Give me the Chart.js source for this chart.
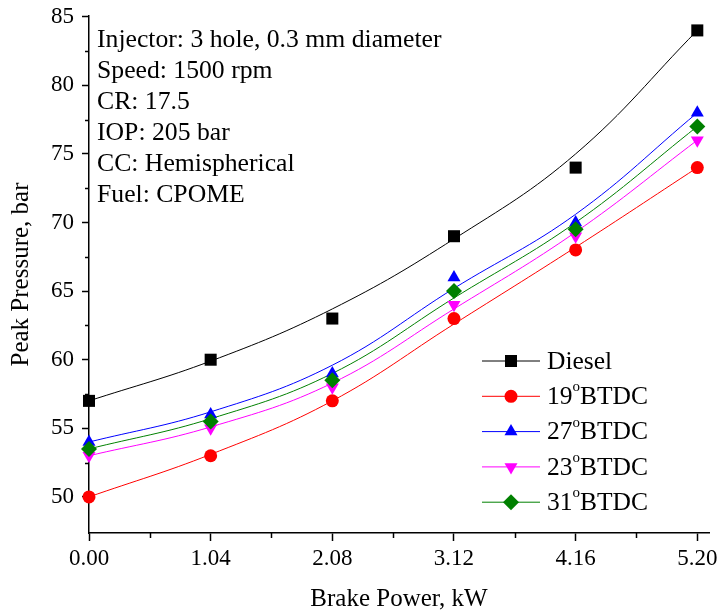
<!DOCTYPE html>
<html>
<head>
<meta charset="utf-8">
<script src="https://cdn.jsdelivr.net/npm/chart.js@4.4.1/dist/chart.umd.min.js"></script>
<style>
  html, body { margin: 0; padding: 0; background: #fff; }
  #wrap { width: 719px; height: 614px; }
</style>
</head>
<body>
<div id="wrap"><canvas id="grafico" width="719" height="614"></canvas></div>
<script>
// brake power (kW)
const power = [0.00, 1.04, 2.08, 3.12, 4.16, 5.20];
const xTicks = [0.00, 1.04, 2.08, 3.12, 4.16, 5.20];
const yTicks = [50, 55, 60, 65, 70, 75, 80, 85];

// measured peak pressure (bar)
const diesel = [57, 60, 63, 69, 74, 84];
const btdc19 = [50, 53, 57, 63, 68, 74];
const btdc27 = [54, 56, 59, 66, 70, 78];
const btdc23 = [53, 55, 58, 64, 69, 76];
const btdc31 = [53.5, 55.5, 58.5, 65, 69.5, 77];

// fitted curves at each power value
const dieselFit = [57.0, 59.9, 63.7, 68.8, 75.0, 84.0];
const btdc19Fit = [50.0, 53.1, 57.0, 62.6, 68.2, 74.0];
const btdc27Fit = [54.0, 56.2, 59.6, 65.2, 70.6, 78.0];
const btdc23Fit = [53.0, 55.1, 58.3, 63.7, 69.3, 76.0];
const btdc31Fit = [53.5, 55.7, 59.0, 64.5, 70.0, 77.0];

const seriesLabels = ['Diesel', '19°BTDC', '27°BTDC', '23°BTDC', '31°BTDC'];
// legend text split in [normal, superscript, normal]
const legendParts = [['Diesel'], ['19', 'o', 'BTDC'], ['27', 'o', 'BTDC'], ['23', 'o', 'BTDC'], ['31', 'o', 'BTDC']];

const notes = [
    'Injector: 3 hole, 0.3 mm diameter',
    'Speed: 1500 rpm',
    'CR: 17.5',
    'IOP: 205 bar',
    'CC: Hemispherical',
    'Fuel: CPOME'
];

const FONT = "'Liberation Serif', 'Times New Roman', serif";
const cores = ['#000000', '#ff0000', '#0000ff', '#ff00ff', '#008000'];
const estilos = [
    { style: 'rect', radius: 8.5, rotation: 0 },
    { style: 'circle', radius: 6.5, rotation: 0 },
    { style: 'triangle', radius: 7.5, rotation: 0 },
    { style: 'triangle', radius: 7.5, rotation: 180 },
    { style: 'rectRot', radius: 8, rotation: 0 }
];
const pontos = [diesel, btdc19, btdc27, btdc23, btdc31];
const ajustes = [dieselFit, btdc19Fit, btdc27Fit, btdc23Fit, btdc31Fit];

const pares = (ys) => power.map((x, i) => ({ x: x, y: ys[i] }));

const datasets = [];
pontos.forEach((serie, i) => {
    datasets.push({
        label: seriesLabels[i],
        data: pares(serie),
        showLine: false,
        pointStyle: estilos[i].style,
        pointRadius: estilos[i].radius,
        pointRotation: estilos[i].rotation,
        pointBackgroundColor: cores[i],
        pointBorderColor: cores[i],
        pointBorderWidth: 0,
        clip: false,
        order: 10 - i
    });
});
ajustes.forEach((serie, i) => {
    datasets.push({
        label: seriesLabels[i] + ' fit',
        data: pares(serie),
        borderColor: cores[i],
        borderWidth: 1,
        pointRadius: 0,
        tension: 0.4,
        clip: false,
        order: 20
    });
});

// minor ticks, notes and legend
const extras = {
    id: 'extras',
    afterDraw(chart) {
        const ctx = chart.ctx;
        const xs = chart.scales.x, ys = chart.scales.y;
        const area = chart.chartArea;
        ctx.save();
        ctx.strokeStyle = '#000';
        ctx.lineWidth = 1.5;
        for (let i = 0; i < xTicks.length - 1; i++) {
            const px = Math.round(xs.getPixelForValue((xTicks[i] + xTicks[i + 1]) / 2)) + 0.5;
            ctx.beginPath();
            ctx.moveTo(px, area.bottom);
            ctx.lineTo(px, area.bottom + 5);
            ctx.stroke();
        }
        for (let i = 0; i < yTicks.length - 1; i++) {
            const py = Math.round(ys.getPixelForValue((yTicks[i] + yTicks[i + 1]) / 2)) + 0.5;
            ctx.beginPath();
            ctx.moveTo(area.left, py);
            ctx.lineTo(area.left - 4, py);
            ctx.stroke();
        }

        ctx.fillStyle = '#000';
        ctx.font = '25.7px ' + FONT;
        ctx.textBaseline = 'middle';
        ctx.textAlign = 'left';
        notes.forEach((t, i) => ctx.fillText(t, 97, 40 + i * 31));

        legendParts.forEach((parts, i) => {
            const y = 361 + i * 35.3;
            ctx.strokeStyle = cores[i];
            ctx.lineWidth = 1;
            ctx.beginPath();
            ctx.moveTo(482, y);
            ctx.lineTo(540, y);
            ctx.stroke();
            ctx.fillStyle = cores[i];
            Chart.helpers.drawPoint(ctx, {
                pointStyle: estilos[i].style,
                radius: estilos[i].radius,
                rotation: estilos[i].rotation,
                borderWidth: 0
            }, 511, y);
            ctx.fillStyle = '#000';
            let x = 547;
            parts.forEach((p, k) => {
                if (k === 1) {
                    ctx.font = '15px ' + FONT;
                    ctx.fillText(p, x, y - 9);
                } else {
                    ctx.font = '25.5px ' + FONT;
                    ctx.fillText(p, x, y + 1);
                }
                x += ctx.measureText(p).width;
            });
        });
        ctx.restore();
    }
};

document.addEventListener('DOMContentLoaded', function() {
    const ctx = document.getElementById('grafico').getContext('2d');
    new Chart(ctx, {
        type: 'line',
        data: { datasets: datasets },
        options: {
            responsive: false,
            animation: false,
            devicePixelRatio: 1,
            layout: { padding: { top: 16, right: 10, left: 0, bottom: 0 } },
            plugins: {
                legend: { display: false },
                tooltip: { enabled: false }
            },
            scales: {
                x: {
                    type: 'linear',
                    min: 0,
                    max: 5.3,
                    afterBuildTicks: (s) => { s.ticks = xTicks.map(v => ({ value: v })); },
                    afterFit: (s) => { s.height = 81; s.paddingLeft = 0; s.paddingRight = 0; },
                    grid: { drawOnChartArea: false, tickLength: 8, tickColor: '#000', tickWidth: 1.5 },
                    border: { color: '#000', width: 1.5 },
                    ticks: {
                        color: '#000',
                        padding: 4,
                        maxRotation: 0,
                        font: { family: FONT, size: 23 },
                        callback: (v) => Number(v).toFixed(2)
                    },
                    title: {
                        display: true,
                        text: 'Brake Power, kW',
                        color: '#000',
                        font: { family: FONT, size: 25, lineHeight: 1 },
                        padding: { top: 0, bottom: 2 }
                    }
                },
                y: {
                    type: 'linear',
                    min: 47.37,
                    max: 85.05,
                    afterBuildTicks: (s) => { s.ticks = yTicks.map(v => ({ value: v })); },
                    afterFit: (s) => { s.width = 89; s.paddingTop = 0; s.paddingBottom = 0; },
                    grid: { drawOnChartArea: false, tickLength: 7, tickColor: '#000', tickWidth: 1.5 },
                    border: { color: '#000', width: 1.5 },
                    ticks: {
                        color: '#000',
                        padding: 8,
                        font: { family: FONT, size: 23 }
                    },
                    title: {
                        display: true,
                        text: 'Peak Pressure, bar',
                        color: '#000',
                        font: { family: FONT, size: 25, lineHeight: 1 },
                        padding: { top: 9, bottom: 0 }
                    }
                }
            }
        },
        plugins: [extras]
    });
});
</script>
</body>
</html>
